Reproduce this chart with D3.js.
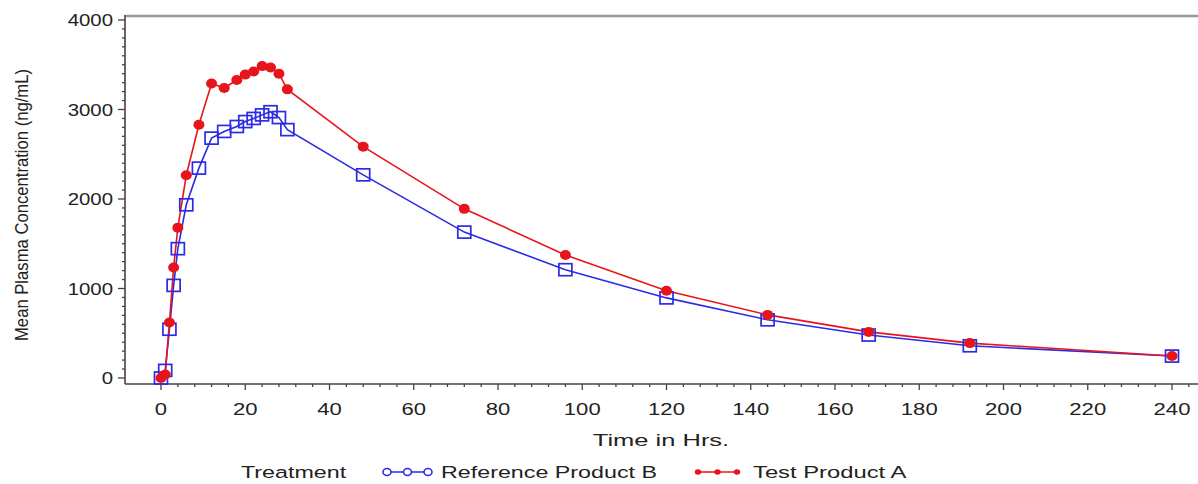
<!DOCTYPE html>
<html>
<head>
<meta charset="utf-8">
<script src="https://cdn.jsdelivr.net/npm/d3@7"></script>
<style>
  body { margin: 0; background: #fff; }
  text { font-family: "Liberation Sans", Arial, sans-serif; fill: #222; }
</style>
</head>
<body>
<div id="chart"></div>
<script>
// sampling times (hrs) and mean concentrations (ng/mL)
const times = [0, 1, 2, 3, 4, 6, 9, 12, 15, 18, 20, 22, 24, 26, 28, 30, 48, 72, 96, 120, 144, 168, 192, 240];
const testA = [0, 40, 620, 1235, 1680, 2265, 2830, 3290, 3240, 3330, 3390, 3425, 3485, 3470, 3400, 3225, 2585, 1890, 1375, 975, 705, 515, 390, 245];
const refB = [0, 85, 545, 1035, 1445, 1935, 2345, 2680, 2755, 2810, 2865, 2900, 2940, 2975, 2910, 2775, 2270, 1630, 1210, 895, 650, 480, 360, 245];
const xTicks = [0, 20, 40, 60, 80, 100, 120, 140, 160, 180, 200, 220, 240];
const yTicks = [0, 1000, 2000, 3000, 4000];

const width = 1198, height = 484;
const plotLeft = 125, plotTop = 16, plotBottom = 384;

const x = d3.scaleLinear().domain([0, 240]).range([161, 1172]);
const y = d3.scaleLinear().domain([0, 4000]).range([378, 20]);

const svg = d3.select("#chart").append("svg")
  .attr("width", width).attr("height", height);

// text that is stretched sideways like the source image
function label(px, py, str, size, sx, anchor) {
  return svg.append("text")
    .attr("transform", `translate(${px},${py}) scale(${sx},1)`)
    .attr("text-anchor", anchor || "start")
    .attr("font-size", size)
    .text(str);
}

// frame
svg.append("line").attr("x1", plotLeft).attr("x2", width).attr("y1", plotTop).attr("y2", plotTop)
  .attr("stroke", "#999").attr("stroke-width", 2.5);
svg.append("line").attr("x1", plotLeft).attr("x2", plotLeft).attr("y1", plotTop - 1).attr("y2", plotBottom)
  .attr("stroke", "#444").attr("stroke-width", 1.6);
svg.append("line").attr("x1", plotLeft).attr("x2", width).attr("y1", plotBottom).attr("y2", plotBottom)
  .attr("stroke", "#444").attr("stroke-width", 1.6);

// x ticks
const xMinor = d3.range(0, 245, 4).filter(v => v % 20 !== 0);
svg.selectAll(".xminor").data(xMinor).enter().append("line")
  .attr("x1", d => x(d)).attr("x2", d => x(d)).attr("y1", plotBottom).attr("y2", plotBottom + 3)
  .attr("stroke", "#444").attr("stroke-width", 1.3);
svg.selectAll(".xmajor").data(xTicks).enter().append("line")
  .attr("x1", d => x(d)).attr("x2", d => x(d)).attr("y1", plotBottom).attr("y2", plotBottom + 6)
  .attr("stroke", "#444").attr("stroke-width", 1.3);
xTicks.forEach(d => label(x(d), 415, d, 17, 1.3, "middle"));

// y ticks
const yMinor = d3.range(0, 4001, 100).filter(v => v % 1000 !== 0);
svg.selectAll(".yminor").data(yMinor).enter().append("line")
  .attr("x1", plotLeft - 3).attr("x2", plotLeft).attr("y1", d => y(d)).attr("y2", d => y(d))
  .attr("stroke", "#444").attr("stroke-width", 1.3);
svg.selectAll(".ymajor").data(yTicks).enter().append("line")
  .attr("x1", plotLeft - 7).attr("x2", plotLeft).attr("y1", d => y(d)).attr("y2", d => y(d))
  .attr("stroke", "#444").attr("stroke-width", 1.3);
yTicks.forEach(d => label(113, y(d) + 6, d, 17, 1.2, "end"));

// axis titles
svg.append("text")
  .attr("transform", "translate(28,205) rotate(-90) scale(1,1.25)")
  .attr("text-anchor", "middle")
  .attr("font-size", 15)
  .attr("textLength", 272).attr("lengthAdjust", "spacingAndGlyphs")
  .text("Mean Plasma Concentration (ng/mL)");
label(661, 446, "Time in Hrs.", 17, 1.5, "middle");

// series
const line = d3.line().x(d => x(d[0])).y(d => y(d[1]));
const redC = "#e8141c", blueC = "#2b2be6";
const redData = times.map((t, i) => [t, testA[i]]);
const blueData = times.map((t, i) => [t, refB[i]]);

svg.append("path").datum(blueData).attr("d", line)
  .attr("fill", "none").attr("stroke", blueC).attr("stroke-width", 1.6);
svg.append("path").datum(redData).attr("d", line)
  .attr("fill", "none").attr("stroke", redC).attr("stroke-width", 1.6);

svg.selectAll(".sq").data(blueData).enter().append("rect")
  .attr("x", d => x(d[0]) - 6.5).attr("y", d => y(d[1]) - 6)
  .attr("width", 13).attr("height", 12)
  .attr("fill", "none").attr("stroke", blueC).attr("stroke-width", 1.7);
svg.selectAll(".dot").data(redData).enter().append("ellipse")
  .attr("cx", d => x(d[0])).attr("cy", d => y(d[1])).attr("rx", 5.5).attr("ry", 5)
  .attr("fill", redC);

// legend
const ly = 472;
label(241, ly + 6, "Treatment", 17, 1.37);
svg.append("line").attr("x1", 383).attr("x2", 432).attr("y1", ly).attr("y2", ly)
  .attr("stroke", blueC).attr("stroke-width", 1.6);
svg.selectAll(".lb").data([387, 407.5, 428]).enter().append("ellipse")
  .attr("cx", d => d).attr("cy", ly).attr("rx", 4).attr("ry", 3.5)
  .attr("fill", "#fff").attr("stroke", blueC).attr("stroke-width", 1.6);
label(441, ly + 6, "Reference Product B", 17, 1.37);
svg.append("line").attr("x1", 696).attr("x2", 739).attr("y1", ly).attr("y2", ly)
  .attr("stroke", redC).attr("stroke-width", 1.6);
svg.selectAll(".lr").data([698, 717.5, 737]).enter().append("ellipse")
  .attr("cx", d => d).attr("cy", ly).attr("rx", 3.2).attr("ry", 2.8).attr("fill", redC);
label(753, ly + 6, "Test Product A", 17, 1.4);
</script>
</body>
</html>
